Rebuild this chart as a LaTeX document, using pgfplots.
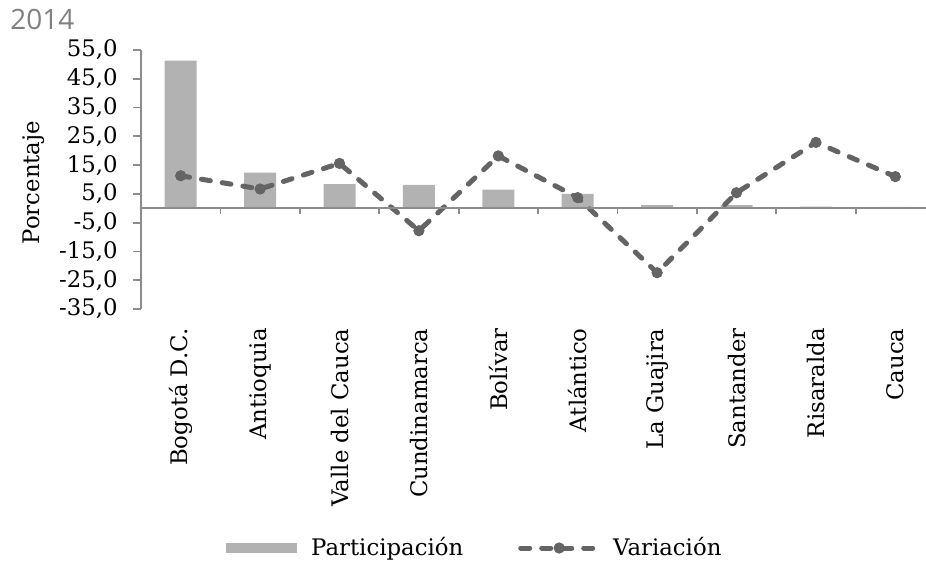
\documentclass[border=0pt]{standalone}
\usepackage{fontspec}
\setmainfont{DejaVu Serif}
\newfontfamily\yearfont{Open Sans}
\usepackage{pgfplots}
\usepackage{pgfplotstable}
\pgfplotsset{compat=1.18}

\definecolor{barcol}{HTML}{B2B2B2}
\definecolor{linecol}{HTML}{646464}
\definecolor{axcol}{HTML}{8C8C8C}
\definecolor{yearcol}{HTML}{808080}

\pgfplotsset{
  barlegend/.style={legend image code/.code={\fill[barcol] (0pt,-2.5pt) rectangle (35.5pt,2.5pt); \path (42.5pt,0pt);}},
  linelegend/.style={legend image code/.code={\draw[##1, mark repeat=2, mark phase=2] plot coordinates {(0pt,0pt) (19.25pt,0pt) (38.5pt,0pt)}; \path (45pt,0pt);}},
}

% participacion y variacion (%), 2014
\pgfplotstableread{
idx part var
0 51.3 11.3
1 12.4 6.7
2 8.4 15.6
3 8.1 -7.8
4 6.5 18.2
5 5.0 3.7
6 1.1 -22.4
7 1.1 5.4
8 0.6 22.9
9 0.5 11.0
}\datos

\begin{document}
\begin{tikzpicture}[font=\fontsize{11.4pt}{13pt}\selectfont]
\useasboundingbox (0,0) rectangle (463pt,280.5pt);
\node[anchor=base west, inner sep=0pt, text=yearcol, font=\yearfont\fontsize{14pt}{16pt}\selectfont] at (5pt,265.5pt) {2014};
\begin{axis}[
    scale only axis,
    width=392.5pt, height=129.5pt,
    at={(70.5pt,126pt)}, anchor=south west,
    xmin=-0.5, xmax=9.386,
    ymin=-35, ymax=55,
    axis y line*=left,
    axis x line*=bottom,
    x axis line style={draw=none},
    y axis line style={draw=axcol, line width=0.9pt},
    ytick={-35,-25,...,55},
    ytick style={draw=axcol, line width=0.9pt},
    xtick={0,...,9},
    xtick style={draw=none},
    xticklabels={Bogotá D.C., Antioquia, Valle del Cauca, Cundinamarca, Bolívar, Atlántico, La Guajira, Santander, Risaralda, Cauca},
    xticklabel style={rotate=90, anchor=east, inner sep=0pt},
    xticklabel shift=5.5pt,
    yticklabel style={inner sep=0pt},
    yticklabel shift=7.5pt,
    tick align=outside,
    major tick length=4pt,
    /pgf/number format/.cd, use comma, fixed, fixed zerofill, precision=1, assume math mode=true,
    /pgfplots/.cd,
    ylabel={Porcentaje},
    ylabel style={at={(axis description cs:-0.1363,0.488)}, anchor=center},
    legend columns=2,
    legend style={draw=none, at={(0.424,-0.923)}, anchor=center,
        /tikz/every even column/.append style={column sep=27.5pt},
        nodes={inner sep=0pt, anchor=west}},
    clip=false,
]
\addplot[ybar, bar width=16pt, fill=barcol, draw=none, barlegend]
    table[x=idx, y=part] {\datos};
\addlegendentry{Participación}
\addplot[linecol, line width=2.5pt, line cap=round, dash pattern=on 4.5pt off 6pt,
    mark=*, mark size=2.6pt, mark options={solid, fill=linecol, line width=0.4pt}, linelegend]
    table[x=idx, y=var] {\datos};
\addlegendentry{Variación}
\draw[axcol, line width=0.9pt] (axis cs:-0.5,0) -- (axis cs:9.386,0);
\pgfplotsinvokeforeach{-0.5,0.5,...,8.5}{
  \draw[axcol, line width=0.9pt] (axis cs:#1,0) -- ++(0pt,-3pt);
}
\end{axis}
\end{tikzpicture}
\end{document}
